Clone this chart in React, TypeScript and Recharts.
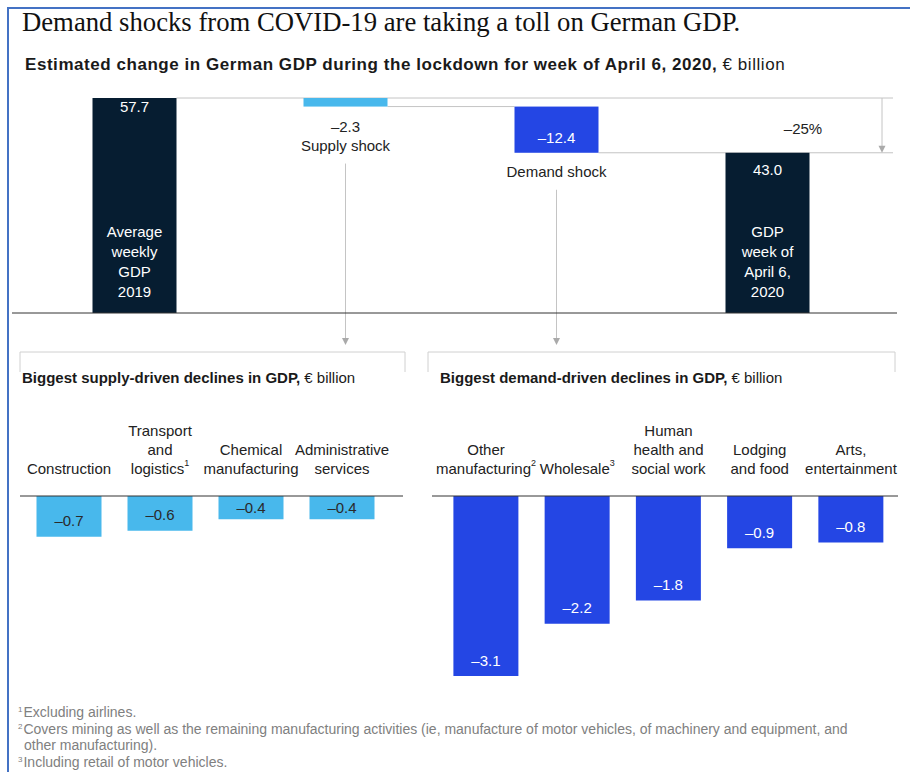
import React from 'react';
import { BarChart, Bar, XAxis, YAxis, LabelList } from 'recharts';

// Waterfall: weekly GDP, € billion
const WF_CATEGORIES = ['Average\nweekly\nGDP\n2019', 'Supply shock', 'Demand shock', 'GDP\nweek of\nApril 6,\n2020'];
const WF_VALUES = [57.7, -2.3, -12.4, 43.0];
const WF_KINDS = ['total', 'delta', 'delta', 'total'];

// Sector declines, € billion
const SUPPLY_CATEGORIES = ['Construction', 'Transport\nand\nlogistics¹', 'Chemical\nmanufacturing', 'Administrative\nservices'];
const SUPPLY_VALUES = [-0.7, -0.6, -0.4, -0.4];
const DEMAND_CATEGORIES = ['Other\nmanufacturing²', 'Wholesale³', 'Human\nhealth and\nsocial work', 'Lodging\nand food', 'Arts,\nentertainment'];
const DEMAND_VALUES = [-3.1, -2.2, -1.8, -0.9, -0.8];

const NAVY = '#061d31';
const LIGHT_BLUE = '#48b8ec';
const BLUE = '#2446e4';
const GRAY_LINE = '#c4c4c4';
const WF_FILLS = [NAVY, LIGHT_BLUE, BLUE, NAVY];
const FONT = '"Liberation Sans", Arial, sans-serif';
const SUPS: Record<string, string> = { '¹': '1', '²': '2', '³': '3' };

const fmt = (v: number) => (v < 0 ? '–' + Math.abs(v).toFixed(1) : v.toFixed(1));

// splits a label so footnote marks become small raised tspans
const withSups = (s: string) => {
  const parts = s.split(/([¹²³])/).filter(Boolean);
  return parts.map((part, i) =>
    SUPS[part] ? (
      <tspan key={i} fontSize={9} dy={-5}>{SUPS[part]}</tspan>
    ) : (
      <tspan key={i} dy={i > 0 && SUPS[parts[i - 1]] ? 5 : 0}>{part}</tspan>
    )
  );
};

// waterfall layout
const WF_W = 910;
const WF_H = 265;
const WF_MARGIN = { top: 8, right: 13, bottom: 41, left: 12 };
const WF_PAD = { left: 16.5, right: 24.5 };
const WF_STEP = (WF_W - WF_MARGIN.left - WF_MARGIN.right - WF_PAD.left - WF_PAD.right) / WF_CATEGORIES.length;
const WF_LINE_END = WF_W - WF_MARGIN.right - 4;
const WF_ARROW_END = 255;

let running = 0;
const wfData = WF_CATEGORIES.map((name, i) => {
  const v = WF_VALUES[i];
  let range: number[];
  if (WF_KINDS[i] === 'total') {
    range = [0, v];
    running = v;
  } else {
    range = [running + v, running];
    running = running + v;
  }
  return { name, value: v, kind: WF_KINDS[i], range };
});
const pctChange = Math.round(((WF_VALUES[WF_VALUES.length - 1] - WF_VALUES[0]) / WF_VALUES[0]) * 100);

const txt = (key: string, x: number, y: number, s: any, fill: string, size = 15) => (
  <text key={key} x={x} y={y} textAnchor="middle" dominantBaseline="central" fill={fill} fontSize={size} fontFamily={FONT}>
    {s}
  </text>
);

function DownArrow({ x, y1, y2 }: { x: number; y1: number; y2: number }) {
  return (
    <g>
      <line x1={x} y1={y1} x2={x} y2={y2 - 6} stroke={GRAY_LINE} strokeWidth={1} />
      <polygon points={`${x - 3.5},${y2 - 7} ${x + 3.5},${y2 - 7} ${x},${y2}`} fill="#aaa" />
    </g>
  );
}

function WaterfallBar(props: any) {
  const { x, y, width, height, index, payload } = props;
  const top = Math.min(y, y + height);
  const h = Math.abs(height);
  const bottom = top + h;
  const cx = x + width / 2;
  const right = x + width;
  const lines = String(payload.name).split('\n');
  const next = wfData[index + 1];
  const els: any[] = [];

  if (payload.kind === 'total') {
    if (index === 0) {
      els.push(<line key="c" x1={right} y1={top} x2={WF_LINE_END} y2={top} stroke={GRAY_LINE} />);
    }
    els.push(<rect key="r" x={x} y={top} width={width} height={h} fill={WF_FILLS[index]} />);
    els.push(txt('v', cx, top + (index === 0 ? 8 : 17), fmt(payload.value), '#fff'));
    lines.forEach((ln, i) => els.push(txt('l' + i, cx, bottom - 22 - (lines.length - 1 - i) * 20, ln, '#fff')));
    if (index === wfData.length - 1) {
      const ax = WF_LINE_END - 11;
      const y0 = bottom - (h * WF_VALUES[0]) / payload.value;
      els.push(<DownArrow key="a" x={ax} y1={y0} y2={top} />);
      els.push(txt('p', ax - 79, (y0 + top) / 2 + 3, `–${Math.abs(pctChange)}%`, '#222'));
    }
  } else {
    const x2 = next && next.kind === 'total' ? WF_LINE_END : x + WF_STEP;
    els.push(<line key="c" x1={right} y1={bottom} x2={x2} y2={bottom} stroke={GRAY_LINE} />);
    els.push(<rect key="r" x={x} y={top} width={width} height={h} fill={WF_FILLS[index]} />);
    let lineStart: number;
    if (h < 20) {
      els.push(txt('v', cx, bottom + 20, fmt(payload.value), '#222'));
      els.push(txt('n', cx, bottom + 39, payload.name, '#222'));
      lineStart = bottom + 57;
    } else {
      els.push(txt('v', cx, bottom - 15, fmt(payload.value), '#fff'));
      els.push(txt('n', cx, bottom + 19, payload.name, '#222'));
      lineStart = bottom + 37;
    }
    els.push(<DownArrow key="a" x={cx} y1={lineStart} y2={WF_ARROW_END} />);
  }
  return <g>{els}</g>;
}

// lower charts layout
const BOT_H = 276;
const BOT_AXIS_H = 86;
const BOT_PLOT_H = 180;
const TICK_LAST_Y = BOT_AXIS_H - 28;
const DOMAIN_MIN = Math.min(...SUPPLY_VALUES, ...DEMAND_VALUES);

function CategoryTick(props: any) {
  const { x, payload } = props;
  const lines = String(payload.value).split('\n');
  return (
    <g>
      {lines.map((ln, i) => txt('t' + i, x, TICK_LAST_Y - (lines.length - 1 - i) * 19, withSups(ln), '#222', 15))}
    </g>
  );
}

const valueLabel = (color: string) => (props: any) => {
  const vb = props.viewBox || props;
  const { x, y, width, height } = vb;
  const top = Math.min(y, y + height);
  const h = Math.abs(height);
  const bottom = top + h;
  const cy = Math.max(bottom - 16, top + h / 2);
  return txt('lbl', x + width / 2, cy, fmt(Number(props.value)), color);
};

function DeclineChart(p: {
  categories: string[];
  values: number[];
  left: number;
  width: number;
  margin: { left: number; right: number };
  padding: { left: number; right: number };
  fill: string;
  labelColor: string;
}) {
  const data = p.categories.map((name, i) => ({ name, value: p.values[i] }));
  return (
    <div style={{ position: 'absolute', left: p.left, top: 410 }}>
      <BarChart
        width={p.width}
        height={BOT_H}
        data={data}
        margin={{ top: 0, bottom: BOT_H - BOT_AXIS_H - BOT_PLOT_H, left: p.margin.left, right: p.margin.right }}
      >
        <XAxis
          dataKey="name"
          orientation="top"
          height={BOT_AXIS_H}
          interval={0}
          tickLine={false}
          axisLine={{ stroke: '#333' }}
          tick={<CategoryTick />}
          padding={p.padding}
        />
        <YAxis hide domain={[DOMAIN_MIN, 0]} />
        <Bar dataKey="value" fill={p.fill} barSize={65} isAnimationActive={false}>
          <LabelList dataKey="value" content={valueLabel(p.labelColor)} />
        </Bar>
      </BarChart>
    </div>
  );
}

const supStyle: React.CSSProperties = { fontSize: 8, position: 'relative', top: -5, marginRight: 1, lineHeight: 0 };
const noteLine: React.CSSProperties = { height: 16.7, lineHeight: '16.7px' };

export default function App() {
  return (
    <div style={{ position: 'absolute', left: 0, top: 0, width: 910, height: 772, background: '#fff', overflow: 'hidden', fontFamily: FONT }}>
      <div style={{ position: 'absolute', left: 7, top: 7, right: 0, bottom: 0, borderLeft: '2px solid #4472c4', borderTop: '2px solid #4472c4' }} />
      <div style={{ position: 'absolute', left: 22, top: 6, lineHeight: '32px', fontFamily: '"Liberation Serif", "Times New Roman", serif', fontSize: 26.7, color: '#111', whiteSpace: 'nowrap' }}>
        Demand shocks from COVID-19 are taking a toll on German GDP.
      </div>
      <div style={{ position: 'absolute', left: 25, top: 54, lineHeight: '22px', fontSize: 17, letterSpacing: 0.55, color: '#1a1a1a', whiteSpace: 'nowrap' }}>
        <b>Estimated change in German GDP during the lockdown for week of April 6, 2020,</b> € billion
      </div>

      <svg width={910} height={772} style={{ position: 'absolute', left: 0, top: 0 }}>
        <path d="M20 372 V352 H405 V372" fill="none" stroke="#d0d0d0" />
        <path d="M428 372 V352 H895 V372" fill="none" stroke="#d0d0d0" />
      </svg>

      <div style={{ position: 'absolute', left: 0, top: 90 }}>
        <BarChart width={WF_W} height={WF_H} data={wfData} margin={WF_MARGIN}>
          <XAxis dataKey="name" height={1} tick={false} tickLine={false} axisLine={{ stroke: '#333' }} padding={WF_PAD} />
          <YAxis hide domain={[0, WF_VALUES[0]]} />
          <Bar dataKey="range" barSize={84} isAnimationActive={false} shape={<WaterfallBar />} />
        </BarChart>
      </div>

      <div style={{ position: 'absolute', left: 22, top: 367, lineHeight: '22px', fontSize: 15, color: '#1a1a1a', whiteSpace: 'nowrap' }}>
        <b>Biggest supply-driven declines in GDP,</b> € billion
      </div>
      <div style={{ position: 'absolute', left: 440, top: 367, lineHeight: '22px', fontSize: 15, color: '#1a1a1a', whiteSpace: 'nowrap' }}>
        <b>Biggest demand-driven declines in GDP,</b> € billion
      </div>

      <DeclineChart
        categories={SUPPLY_CATEGORIES}
        values={SUPPLY_VALUES}
        left={0}
        width={420}
        margin={{ left: 20, right: 17 }}
        padding={{ left: 3.5, right: 15.5 }}
        fill={LIGHT_BLUE}
        labelColor="#2a2a2a"
      />
      <DeclineChart
        categories={DEMAND_CATEGORIES}
        values={DEMAND_VALUES}
        left={420}
        width={490}
        margin={{ left: 12, right: 12 }}
        padding={{ left: 8.4, right: 1.4 }}
        fill={BLUE}
        labelColor="#fff"
      />

      <div style={{ position: 'absolute', left: 18, top: 704, fontSize: 14, color: '#808080', whiteSpace: 'nowrap' }}>
        <div style={noteLine}><span style={supStyle}>1</span>Excluding airlines.</div>
        <div style={noteLine}><span style={supStyle}>2</span>Covers mining as well as the remaining manufacturing activities (ie, manufacture of motor vehicles, of machinery and equipment, and</div>
        <div style={{ ...noteLine, paddingLeft: 6 }}>other manufacturing).</div>
        <div style={noteLine}><span style={supStyle}>3</span>Including retail of motor vehicles.</div>
      </div>
    </div>
  );
}
